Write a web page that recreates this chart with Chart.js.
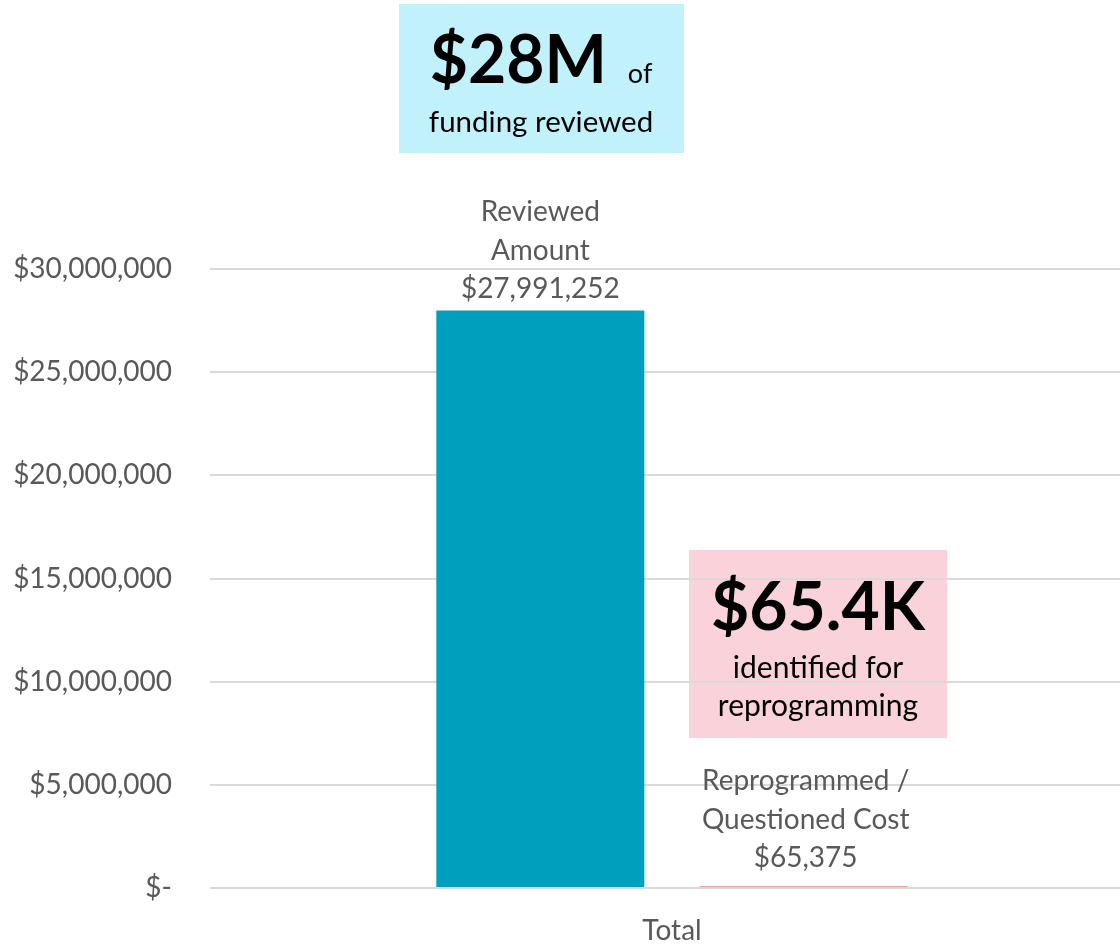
<!DOCTYPE html>
<html>
<head>
<meta charset="utf-8">
<script src="https://cdn.jsdelivr.net/npm/chart.js@4.4.1/dist/chart.umd.min.js"></script>
<style>
  html, body { margin: 0; padding: 0; background: #ffffff; }
  #wrap { width: 1120px; height: 945px; position: relative; }
</style>
</head>
<body>
<div id="wrap"><canvas id="c" width="1120" height="945"></canvas></div>
<script>
// ---- data ----
const categories = ['Total'];
const reviewedName = ['Reviewed', 'Amount'];
const reprogrammedName = ['Reprogrammed /', 'Questioned Cost'];
const reviewedValues = [27991252];
const reprogrammedValues = [65375];
const yTickValues = [0, 5000000, 10000000, 15000000, 20000000, 25000000, 30000000];
const calloutTop = { big: '$28M', small: 'of', line2: 'funding reviewed' };
const calloutPink = { big: '$65.4K', line2: 'identified for', line3: 'reprogramming' };

const FONT = 'Lato, "Open Sans", sans-serif';
const GRAY = '#595959';
const TEAL = '#009FBD';
const PINK_BAR = '#EE9AA2';

function fmtMoney(v) {
  return v === 0 ? '$-' : '$' + Math.round(v).toLocaleString('en-US');
}

// the plot area in the original continues a little past the right edge of the picture
const extendRight = {
  id: 'extendRight',
  afterLayout(chart) {
    const x = chart.scales.x;
    x.right += 14;
    x.width += 14;
    x.configure();
  }
};

const boxesPlugin = {
  id: 'boxes',
  beforeDraw(chart) {
    const ctx = chart.ctx;
    ctx.save();
    ctx.fillStyle = '#C1F2FC';
    ctx.fillRect(399, 4, 285, 149);
    ctx.fillStyle = '#F9D3D9';
    ctx.fillRect(689, 550, 258, 188);
    ctx.restore();
  },
  afterDraw(chart) {
    const ctx = chart.ctx;
    ctx.save();
    ctx.fillStyle = '#000000';
    ctx.textBaseline = 'alphabetic';
    // top callout
    ctx.font = 'bold 66px ' + FONT;
    const bigW = ctx.measureText(calloutTop.big).width;
    ctx.font = '27px ' + FONT;
    const smallW = ctx.measureText(calloutTop.small).width;
    const gap = 21;
    const total = bigW + gap + smallW;
    const cx = 541;
    let x0 = cx - total / 2;
    ctx.textAlign = 'left';
    ctx.font = 'bold 66px ' + FONT;
    ctx.fillText(calloutTop.big, x0, 83);
    ctx.font = '27px ' + FONT;
    ctx.fillText(calloutTop.small, x0 + bigW + gap, 83);
    ctx.textAlign = 'center';
    ctx.font = '29.5px ' + FONT;
    ctx.fillText(calloutTop.line2, cx, 132);
    // pink callout
    const px = 818;
    ctx.font = 'bold 66px ' + FONT;
    ctx.fillText(calloutPink.big, px, 630);
    ctx.font = '30px ' + FONT;
    ctx.fillText(calloutPink.line2, px, 678);
    ctx.fillText(calloutPink.line3, px, 716);
    ctx.restore();
  }
};

const labelPlugin = {
  id: 'barLabels',
  afterDatasetsDraw(chart) {
    const ctx = chart.ctx;
    const names = [reviewedName, reprogrammedName];
    const offsets = [12, 19];
    ctx.save();
    ctx.font = '28px ' + FONT;
    ctx.fillStyle = GRAY;
    ctx.textAlign = 'center';
    ctx.textBaseline = 'alphabetic';
    chart.data.datasets.forEach((ds, i) => {
      const meta = chart.getDatasetMeta(i);
      meta.data.forEach((bar, j) => {
        const lines = names[i].concat([fmtMoney(ds.data[j])]);
        const lh = 38.5;
        let yb = bar.y - offsets[i];
        for (let k = lines.length - 1; k >= 0; k--) {
          ctx.fillText(lines[k], bar.x + (i === 1 ? 2 : 0), yb);
          yb -= lh;
        }
      });
    });
    ctx.restore();
  }
};

new Chart(document.getElementById('c'), {
  type: 'bar',
  data: {
    labels: categories,
    datasets: [
      { label: reviewedName.join(' '), data: reviewedValues, backgroundColor: TEAL,
        categoryPercentage: 0.57, barPercentage: 0.79 },
      { label: reprogrammedName.join(' '), data: reprogrammedValues, backgroundColor: PINK_BAR,
        categoryPercentage: 0.57, barPercentage: 0.79, minBarLength: 2 }
    ]
  },
  options: {
    responsive: false,
    animation: false,
    layout: { padding: { top: 269, left: 0, right: 0, bottom: 0 } },
    plugins: { legend: { display: false }, tooltip: { enabled: false } },
    scales: {
      x: {
        grid: { display: false, drawTicks: false },
        border: { display: false },
        ticks: { color: GRAY, font: { family: FONT, size: 28 }, padding: 26 },
        afterFit(scale) { scale.height = 57; }
      },
      y: {
        min: 0, max: 30000000,
        afterBuildTicks(scale) { scale.ticks = yTickValues.map(v => ({ value: v })); },
        grid: { color: '#D9D9D9', lineWidth: 2, drawTicks: false },
        border: { display: false },
        ticks: { color: GRAY, font: { family: FONT, size: 28 }, padding: 38,
                 callback: v => fmtMoney(v) },
        afterFit(scale) { scale.width = 210; }
      }
    }
  },
  plugins: [extendRight, boxesPlugin, labelPlugin]
});
</script>
</body>
</html>
